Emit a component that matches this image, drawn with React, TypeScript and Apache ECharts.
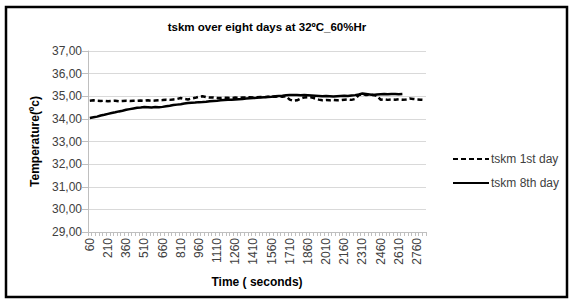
import React, { useEffect, useRef } from "react";
import * as echarts from "echarts";

const times: number[] = [];
for (let t = 60; t <= 2820; t += 30) times.push(t);
const categories = times.map(String);

const day1: (number | null)[] = [
  34.80, 34.82, 34.80, 34.79, 34.80, 34.78, 34.79, 34.80, 34.78, 34.79, 34.80,
  34.79, 34.80, 34.80, 34.81, 34.80, 34.82, 34.80, 34.81, 34.82, 34.83,
  34.85, 34.84, 34.86, 34.88, 34.92, 34.88, 34.86, 34.90, 34.93, 34.98,
  35.00, 34.96, 34.94, 34.95, 34.93, 34.92, 34.94, 34.93, 34.92, 34.94,
  34.93, 34.95, 34.94, 34.96, 34.95, 34.96, 34.97, 34.96, 34.98, 34.97,
  34.98, 34.99, 34.98, 35.00, 34.85, 34.80, 34.82, 34.90, 34.95, 34.96,
  34.95, 34.90, 34.85, 34.82, 34.83, 34.82, 34.84, 34.82, 34.83, 34.85,
  34.86, 34.84, 34.88, 35.05, 35.10, 35.05, 35.08, 35.06, 35.02, 34.85,
  34.86, 34.84, 34.86, 34.85, 34.87, 34.85, 34.86, 34.90, 34.88, 34.86, 34.85, 34.84,
];

const day8: (number | null)[] = [
  34.04, 34.07, 34.10, 34.15, 34.18, 34.22, 34.26, 34.29, 34.33, 34.36, 34.40,
  34.43, 34.46, 34.49, 34.50, 34.52, 34.51, 34.50, 34.52, 34.51, 34.53,
  34.56, 34.58, 34.61, 34.63, 34.65, 34.68, 34.70, 34.71, 34.72, 34.74,
  34.75, 34.76, 34.78, 34.79, 34.80, 34.82, 34.83, 34.84, 34.85, 34.86,
  34.87, 34.88, 34.90, 34.91, 34.92, 34.93, 34.95, 34.96, 34.97, 34.98,
  35.00, 35.01, 35.02, 35.04, 35.05, 35.06, 35.05, 35.04, 35.05, 35.04,
  35.03, 35.02, 35.01, 35.00, 35.01, 35.00, 34.99, 35.00, 35.01, 35.02,
  35.01, 35.03, 35.05, 35.08, 35.12, 35.10, 35.08, 35.06, 35.08, 35.09,
  35.10, 35.09, 35.10, 35.10, 35.09, 35.10, null, null, null, null, null, null,
];

const seriesNames = ["tskm 1st day", "tskm 8th day"];
const titleText = "tskm over eight days at 32ºC_60%Hr";
const yAxisName = "Temperature(ºc)";
const xAxisName = "Time ( seconds)";

const FONT = "Liberation Sans";

export default function App() {
  const ref = useRef<HTMLDivElement>(null);
  useEffect(() => {
    if (!ref.current) return;
    const chart = echarts.init(ref.current, null, { renderer: "svg" });
    chart.setOption({
      animation: false,
      backgroundColor: "#ffffff",
      textStyle: { fontFamily: FONT },
      graphic: [
        {
          type: "rect",
          shape: { x: 6, y: 7, width: 561, height: 290 },
          style: { fill: "none", stroke: "#000", lineWidth: 2.5 },
          silent: true,
        },
        {
          type: "text",
          x: 267,
          y: 27,
          style: {
            text: titleText,
            fontFamily: FONT,
            fontSize: 11.5,
            fontWeight: "bold",
            fill: "#000",
            textAlign: "center",
            textVerticalAlign: "middle",
          },
        },
      ],
      legend: {
        orient: "vertical",
        left: 447,
        top: 148,
        itemWidth: 36,
        itemHeight: 10,
        itemGap: 12,
        data: seriesNames,
        itemStyle: { opacity: 0 },
        textStyle: { fontFamily: FONT, fontSize: 12, color: "#404040", padding: [0, 0, 0, -3] },
      },
      grid: { left: 88, right: 147, top: 51, bottom: 70, containLabel: false },
      xAxis: {
        type: "category",
        data: categories,
        boundaryGap: true,
        name: xAxisName,
        nameLocation: "middle",
        nameGap: 44,
        nameTextStyle: { fontFamily: FONT, fontSize: 12, fontWeight: "bold", color: "#000" },
        axisLine: { lineStyle: { color: "#bfbfbf", width: 1 } },
        axisTick: { show: true, interval: 0, length: 4, lineStyle: { color: "#bfbfbf" } },
        axisLabel: {
          interval: 4,
          rotate: 90,
          fontSize: 12,
          color: "#404040",
          fontFamily: FONT,
          margin: 6,
        },
        splitLine: { show: false },
      },
      yAxis: {
        type: "value",
        min: 29,
        max: 37,
        interval: 1,
        name: yAxisName,
        nameLocation: "middle",
        nameRotate: 90,
        nameGap: 46,
        nameTextStyle: { fontFamily: FONT, fontSize: 12, fontWeight: "bold", color: "#000" },
        axisLine: { show: true, lineStyle: { color: "#bfbfbf", width: 1 } },
        axisTick: { show: true, length: 6, lineStyle: { color: "#bfbfbf" } },
        axisLabel: {
          fontSize: 12,
          color: "#404040",
          fontFamily: FONT,
          margin: 6,
          formatter: (v: number) => v.toFixed(2).replace(".", ","),
        },
        splitLine: { lineStyle: { color: "#d9d9d9", width: 1 } },
      },
      series: [
        {
          name: seriesNames[0],
          type: "line",
          data: day1,
          symbol: "none",
          lineStyle: { color: "#000", width: 2.5, type: [5, 3] },
          itemStyle: { color: "#000" },
        },
        {
          name: seriesNames[1],
          type: "line",
          data: day8,
          symbol: "none",
          lineStyle: { color: "#000", width: 2.5, type: "solid" },
          itemStyle: { color: "#000" },
        },
      ],
    });
    return () => chart.dispose();
  }, []);
  return (
    <div
      ref={ref}
      style={{ position: "fixed", left: 0, top: 0, width: 573, height: 302 }}
    />
  );
}
